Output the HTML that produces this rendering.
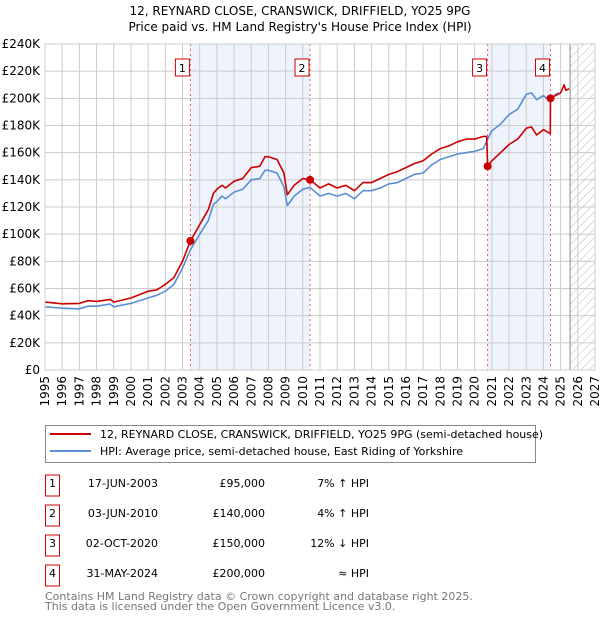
<!DOCTYPE html>
<html><head><meta charset="utf-8"><style>
body{margin:0;background:#fff;font-family:"DejaVu Sans","Liberation Sans",sans-serif;}
svg text{font-family:"DejaVu Sans","Liberation Sans",sans-serif;}
</style></head><body>
<svg id="c" width="600" height="620" xmlns="http://www.w3.org/2000/svg">
<defs><pattern id="hatch" width="6" height="6" patternUnits="userSpaceOnUse" patternTransform="rotate(45)"><line x1="0" y1="0" x2="0" y2="6" stroke="#bbb" stroke-width="1"/></pattern></defs>
<text x="300" y="15" text-anchor="middle" font-size="12">12, REYNARD CLOSE, CRANSWICK, DRIFFIELD, YO25 9PG</text>
<text x="300" y="31" text-anchor="middle" font-size="12">Price paid vs. HM Land Registry's House Price Index (HPI)</text>
<g id="plot"></g>
<rect x="45.5" y="425.5" width="490" height="37" fill="#fff" stroke="#888"/>
<line x1="50" y1="434" x2="91" y2="434" stroke="#cc0000" stroke-width="2"/>
<text x="100" y="438" font-size="11">12, REYNARD CLOSE, CRANSWICK, DRIFFIELD, YO25 9PG (semi-detached house)</text>
<line x1="50" y1="451" x2="91" y2="451" stroke="#5b8fd4" stroke-width="2"/>
<text x="100" y="455" font-size="11">HPI: Average price, semi-detached house, East Riding of Yorkshire</text>
<g id="table" font-size="11"></g>
<text x="45" y="600" font-size="11" fill="#777">Contains HM Land Registry data © Crown copyright and database right 2025.</text>
<text x="45" y="610" font-size="11" fill="#777">This data is licensed under the Open Government Licence v3.0.</text>
</svg>
<script>
const yearTicks=[1995,1996,1997,1998,1999,2000,2001,2002,2003,2004,2005,2006,2007,2008,2009,2010,2011,2012,2013,2014,2015,2016,2017,2018,2019,2020,2021,2022,2023,2024,2025,2026,2027];
const valueTicks=[0,20,40,60,80,100,120,140,160,180,200,220,240];
const valueLabels=["£0","£20K","£40K","£60K","£80K","£100K","£120K","£140K","£160K","£180K","£200K","£220K","£240K"];
const hpiT=[1995,1996,1997,1997.5,1998,1998.8,1999,2000,2001,2001.5,2002,2002.5,2003,2003.46,2004,2004.5,2004.8,2005,2005.3,2005.5,2006,2006.5,2007,2007.5,2007.8,2008,2008.5,2008.9,2009.1,2009.5,2010,2010.42,2011,2011.5,2012,2012.5,2013,2013.5,2014,2014.5,2015,2015.5,2016,2016.5,2017,2017.5,2018,2018.5,2019,2019.5,2020,2020.5,2020.75,2021,2021.5,2022,2022.5,2023,2023.3,2023.6,2024,2024.41,2024.7,2024.9];
const hpiV=[46.5,45.5,45,47,47,48.5,46.5,49,53,55,58,63,75,88.5,100,110,122,124,128,126,131,133,140,141,147,147,145,135,121,128,133,134.5,128,130,128,130,126,132,132,134,137,138,141,144,145,151,155,157,159,160,161,163,170,176,181,188,192,203,204,199,202,198,203,204];
const redT=[1995,1996,1997,1997.5,1998,1998.8,1999,2000,2001,2001.5,2002,2002.5,2003,2003.46,2004,2004.5,2004.8,2005,2005.3,2005.5,2006,2006.5,2007,2007.5,2007.8,2008,2008.5,2008.9,2009.1,2009.5,2010,2010.42,2011,2011.5,2012,2012.5,2013,2013.5,2014,2014.5,2015,2015.5,2016,2016.5,2017,2017.5,2018,2018.5,2019,2019.5,2020,2020.5,2020.7,2020.75,2021,2021.5,2022,2022.5,2023,2023.3,2023.6,2024,2024.4,2024.41,2024.7,2025,2025.2,2025.3,2025.5];
const redV=[50,48.7,49,51,50.5,52,50,53,58,59,63,68,80,95,107,118,130,133,136,134,139,141,149,150,157,157,155,145,129,136,141,140,134,137,134,136,132,138,138,141,144,146,149,152,154,159,163,165,168,170,170,172,172,150,154,160,166,170,178,179,173,177,174,200,202,204,210,206,207];
const saleT=[2003.46,2010.42,2020.75,2024.41];
const saleV=[95,140,150,200];
const saleLabels=["1","2","3","4"];
const saleDates=["17-JUN-2003","03-JUN-2010","02-OCT-2020","31-MAY-2024"];
const salePrices=["£95,000","£140,000","£150,000","£200,000"];
const saleHpi=["7% ↑ HPI","4% ↑ HPI","12% ↓ HPI","≈ HPI"];
const nowT=2025.55;

const X0=45,X1=595,Y0=370,Y1=44;
const xs=t=>X0+(t-1995)/(2027-1995)*(X1-X0);
const ys=v=>Y0-v/240*(Y0-Y1);
const NS="http://www.w3.org/2000/svg";
const plot=document.getElementById('plot');
function mk(tag,attrs,parent){const e=document.createElementNS(NS,tag);for(const k in attrs)e.setAttribute(k,attrs[k]);(parent||plot).appendChild(e);return e;}

const bands=[[0,1],[2,3]];
bands.forEach(b=>{
 const r=mk('rect',{x:xs(saleT[b[0]]),y:Y1,width:xs(saleT[b[1]])-xs(saleT[b[0]]),height:Y0-Y1,fill:'#eef3fc'});
 
 
});
const h=mk('rect',{x:xs(nowT),y:Y1,width:X1-xs(nowT),height:Y0-Y1,fill:'url(#hatch)'});


yearTicks.forEach(t=>{
 const l=mk('line',{x1:xs(t),x2:xs(t),y1:Y1,y2:Y0,stroke:'#ccc','stroke-width':1});
 
 
 const tx=mk('text',{x:0,y:0,'font-size':12,'text-anchor':'end',transform:`translate(${xs(t)+4},376) rotate(-90)`});
 tx.textContent=t;
 
 
});
valueTicks.forEach((v,i)=>{
 const l=mk('line',{x1:X0,x2:X1,y1:ys(v),y2:ys(v),stroke:'#ccc','stroke-width':1});
 
 
 const tx=mk('text',{x:40,y:ys(v)+4,'font-size':12,'text-anchor':'end'});
 tx.textContent=valueLabels[i];
 
 
});
const nl=mk('line',{x1:xs(nowT),x2:xs(nowT),y1:Y1,y2:Y0,stroke:'#888','stroke-width':1});


saleT.forEach((t,i)=>{
 const l=mk('line',{x1:xs(t),x2:xs(t),y1:Y1,y2:Y0,stroke:'#e06060','stroke-width':1,'stroke-dasharray':'2,3'});
 
 
});
function path(T,V,color,name){
 const d=T.map((t,i)=>(i?'L':'M')+xs(t).toFixed(1)+','+ys(V[i]).toFixed(1)).join('');
 const p=mk('path',{d:d,fill:'none',stroke:color,'stroke-width':1.6,'stroke-linejoin':'round'});
 
 
}
path(hpiT,hpiV,'#5b8fd4','hpi-line');
path(redT,redV,'#cc0000','property-price-line');
saleT.forEach((t,i)=>{
 const c=mk('circle',{cx:xs(t),cy:ys(saleV[i]),r:4,fill:'#cc0000'});
 
 
 const bx=xs(t)-9;
 const r=mk('rect',{x:bx-6,y:59,width:14,height:17,fill:'#fff',stroke:'#cc0000'});
 
 
 const tx=mk('text',{x:bx+1,y:72,'font-size':11,'text-anchor':'middle'});
 tx.textContent=saleLabels[i];
 
 
});
const ax=mk('rect',{x:X0,y:Y1,width:X1-X0,height:Y0-Y1,fill:'none',stroke:'#ccc'});



const tbl=document.getElementById('table');
saleLabels.forEach((s,i)=>{
 const y=487+i*30;
 const r=mk('rect',{x:45.5,y:y-12,width:14,height:21,fill:'#fff',stroke:'#cc0000'},tbl);
 
 
 const cells=[[52.5,s,'middle'],[158,saleDates[i],'end'],[265,salePrices[i],'end'],[369,saleHpi[i],'end']];
 cells.forEach(c=>{
  const tx=mk('text',{x:c[0],y:y,'text-anchor':c[2]},tbl);
  tx.textContent=c[1];
  
  
 });
});
</script>
</body></html>
